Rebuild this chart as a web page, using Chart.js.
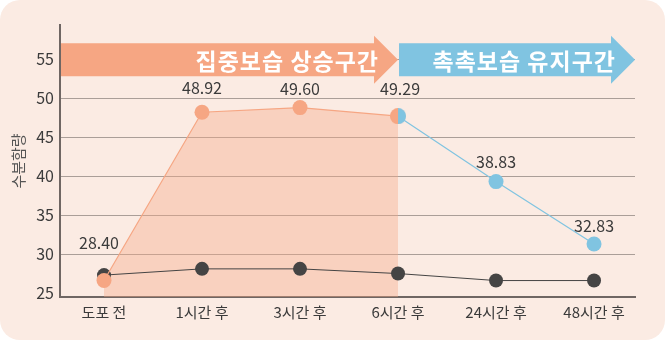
<!DOCTYPE html>
<html>
<head>
<meta charset="utf-8">
<script src="https://cdn.jsdelivr.net/npm/chart.js@4"></script>
<style>
  html, body { margin: 0; padding: 0; background: #ffffff; }
  canvas { display: block; }
</style>
</head>
<body>
<canvas id="moistureChart" width="667" height="342"></canvas>
<script>
// Moisture content over time after application

const categories = ['도포 전', '1시간 후', '3시간 후', '6시간 후', '24시간 후', '48시간 후'];
const intensiveValues = [26.6, 48.2, 48.8, 47.7];               // 0 ~ 6h
const maintainValues = [null, null, null, 47.7, 39.3, 31.3];    // 6h ~ 48h
const controlValues = [27.3, 28.1, 28.1, 27.5, 26.6, 26.6];
const valueLabels = ['28.40', '48.92', '49.60', '49.29', '38.83', '32.83'];
const yTicks = [25, 30, 35, 40, 45, 50, 55];
const phaseLabels = ['집중보습 상승구간', '촉촉보습 유지구간'];

const FONT = '"Noto Sans CJK KR", "Noto Sans", sans-serif';
const ORANGE = '#f6a683';
const BLUE = '#80c4e1';
const DARK = '#454444';

// half orange / half blue marker where the two phases meet
function halfPoint(r) {
  const c = document.createElement('canvas');
  c.width = c.height = r * 2;
  const g = c.getContext('2d');
  g.fillStyle = BLUE;
  g.beginPath(); g.arc(r, r, r, -Math.PI / 2, Math.PI / 2); g.fill();
  g.fillStyle = ORANGE;
  g.beginPath(); g.arc(r, r, r, Math.PI / 2, Math.PI * 1.5); g.fill();
  return c;
}
const joinPoint = halfPoint(8);

const toPoints = (arr) => arr.map((y, x) => ({ x, y })).filter(p => p.y !== null);

const backdrop = {
  id: 'backdrop',
  beforeDraw(chart) {
    const { ctx, width, height } = chart;
    ctx.save();
    ctx.fillStyle = '#fbebe3';
    ctx.beginPath();
    ctx.roundRect(0, 0, width - 2, height - 2, 20);
    ctx.fill();
    ctx.restore();
  },
};

const banners = {
  id: 'banners',
  beforeDatasetsDraw(chart) {
    const { ctx, chartArea, scales: { x, y } } = chart;
    const cy = y.getPixelForValue(55) + 0.5;
    const mid = x.getPixelForValue(3);
    const arrow = (left, tip, color, text) => {
      ctx.fillStyle = color;
      ctx.beginPath();
      ctx.moveTo(left, cy - 16.5);
      ctx.lineTo(tip - 24, cy - 16.5);
      ctx.lineTo(tip - 24, cy - 24);
      ctx.lineTo(tip, cy);
      ctx.lineTo(tip - 24, cy + 24);
      ctx.lineTo(tip - 24, cy + 16.5);
      ctx.lineTo(left, cy + 16.5);
      ctx.closePath();
      ctx.fill();
      ctx.fillStyle = '#ffffff';
      ctx.font = 'bold 23px ' + FONT;
      ctx.letterSpacing = '1px';
      ctx.textAlign = 'right';
      ctx.textBaseline = 'middle';
      ctx.fillText(text, tip - 19, cy + 1);
      ctx.letterSpacing = '0px';
    };
    ctx.save();
    arrow(chartArea.left + 1, mid, ORANGE, phaseLabels[0]);
    arrow(mid + 1, chartArea.right, BLUE, phaseLabels[1]);
    ctx.restore();
  },
};

const labelOffsets = [38, 24, 19, 27, 20, 18];
const labelShift = [-5, 0, 0, 2, 0, 0];
const valueText = {
  id: 'valueText',
  afterDatasetsDraw(chart) {
    const { ctx, scales: { x, y } } = chart;
    ctx.save();
    ctx.fillStyle = '#3b3b3b';
    ctx.font = '16px ' + FONT;
    ctx.textAlign = 'center';
    ctx.textBaseline = 'middle';
    valueLabels.forEach((t, i) => {
      const v = i <= 3 ? intensiveValues[i] : maintainValues[i];
      ctx.fillText(t, x.getPixelForValue(i) + labelShift[i], y.getPixelForValue(v) - labelOffsets[i]);
    });
    ctx.restore();
  },
};

new Chart(document.getElementById('moistureChart'), {
  type: 'line',
  data: {
    datasets: [
      {
        label: 'intensive',
        data: toPoints(intensiveValues),
        borderColor: ORANGE,
        borderWidth: 1.2,
        backgroundColor: 'rgba(247, 168, 135, 0.38)',
        pointBackgroundColor: ORANGE,
        pointBorderWidth: 0,
        pointRadius: 7.5,
        fill: 'start',
        tension: 0,
        order: 1,
      },
      {
        label: 'maintain',
        data: toPoints(maintainValues),
        borderColor: BLUE,
        borderWidth: 1.2,
        pointBackgroundColor: BLUE,
        pointBorderWidth: 0,
        pointRadius: 7.5,
        pointStyle: (c) => (c.dataIndex === 0 ? joinPoint : 'circle'),
        fill: false,
        tension: 0,
        order: 0,
      },
      {
        label: 'control',
        data: toPoints(controlValues),
        borderColor: DARK,
        borderWidth: 1,
        pointBackgroundColor: DARK,
        pointBorderWidth: 0,
        pointRadius: 7,
        fill: false,
        tension: 0,
        order: 2,
      },
    ],
  },
  options: {
    responsive: false,
    animation: false,
    layout: { padding: { top: 25, right: 32, left: 0, bottom: 0 } },
    plugins: {
      legend: { display: false },
      tooltip: { enabled: false },
      filler: { drawTime: 'beforeDatasetsDraw' },
    },
    scales: {
      x: {
        type: 'linear',
        min: -0.449,
        max: 5.418,
        afterBuildTicks: (s) => { s.ticks = categories.map((_, i) => ({ value: i })); },
        afterFit: (s) => { s.height = 45; },
        grid: { display: false, drawTicks: false },
        border: { color: '#6f6663', width: 2 },
        ticks: {
          padding: 6,
          color: '#3b3b3b',
          font: { family: FONT, size: 15 },
          callback: (v) => categories[v],
        },
      },
      y: {
        min: 24.49,
        max: 59.4,
        afterBuildTicks: (s) => { s.ticks = yTicks.map(v => ({ value: v })); },
        afterFit: (s) => { s.width = 60; },
        grid: {
          drawTicks: false,
          color: (c) => (c.tick && c.tick.value === 25 ? 'rgba(0,0,0,0)' : '#aa9e98'),
          lineWidth: 1,
        },
        border: { color: '#6f6663', width: 2 },
        ticks: {
          padding: 6,
          color: '#3b3b3b',
          font: { family: FONT, size: 16 },
        },
        title: {
          display: true,
          text: '수분함량',
          color: '#555555',
          font: { family: FONT, size: 15 },
          padding: { top: 9, bottom: 0 },
        },
      },
    },
  },
  plugins: [backdrop, banners, valueText],
});
</script>
</body>
</html>
